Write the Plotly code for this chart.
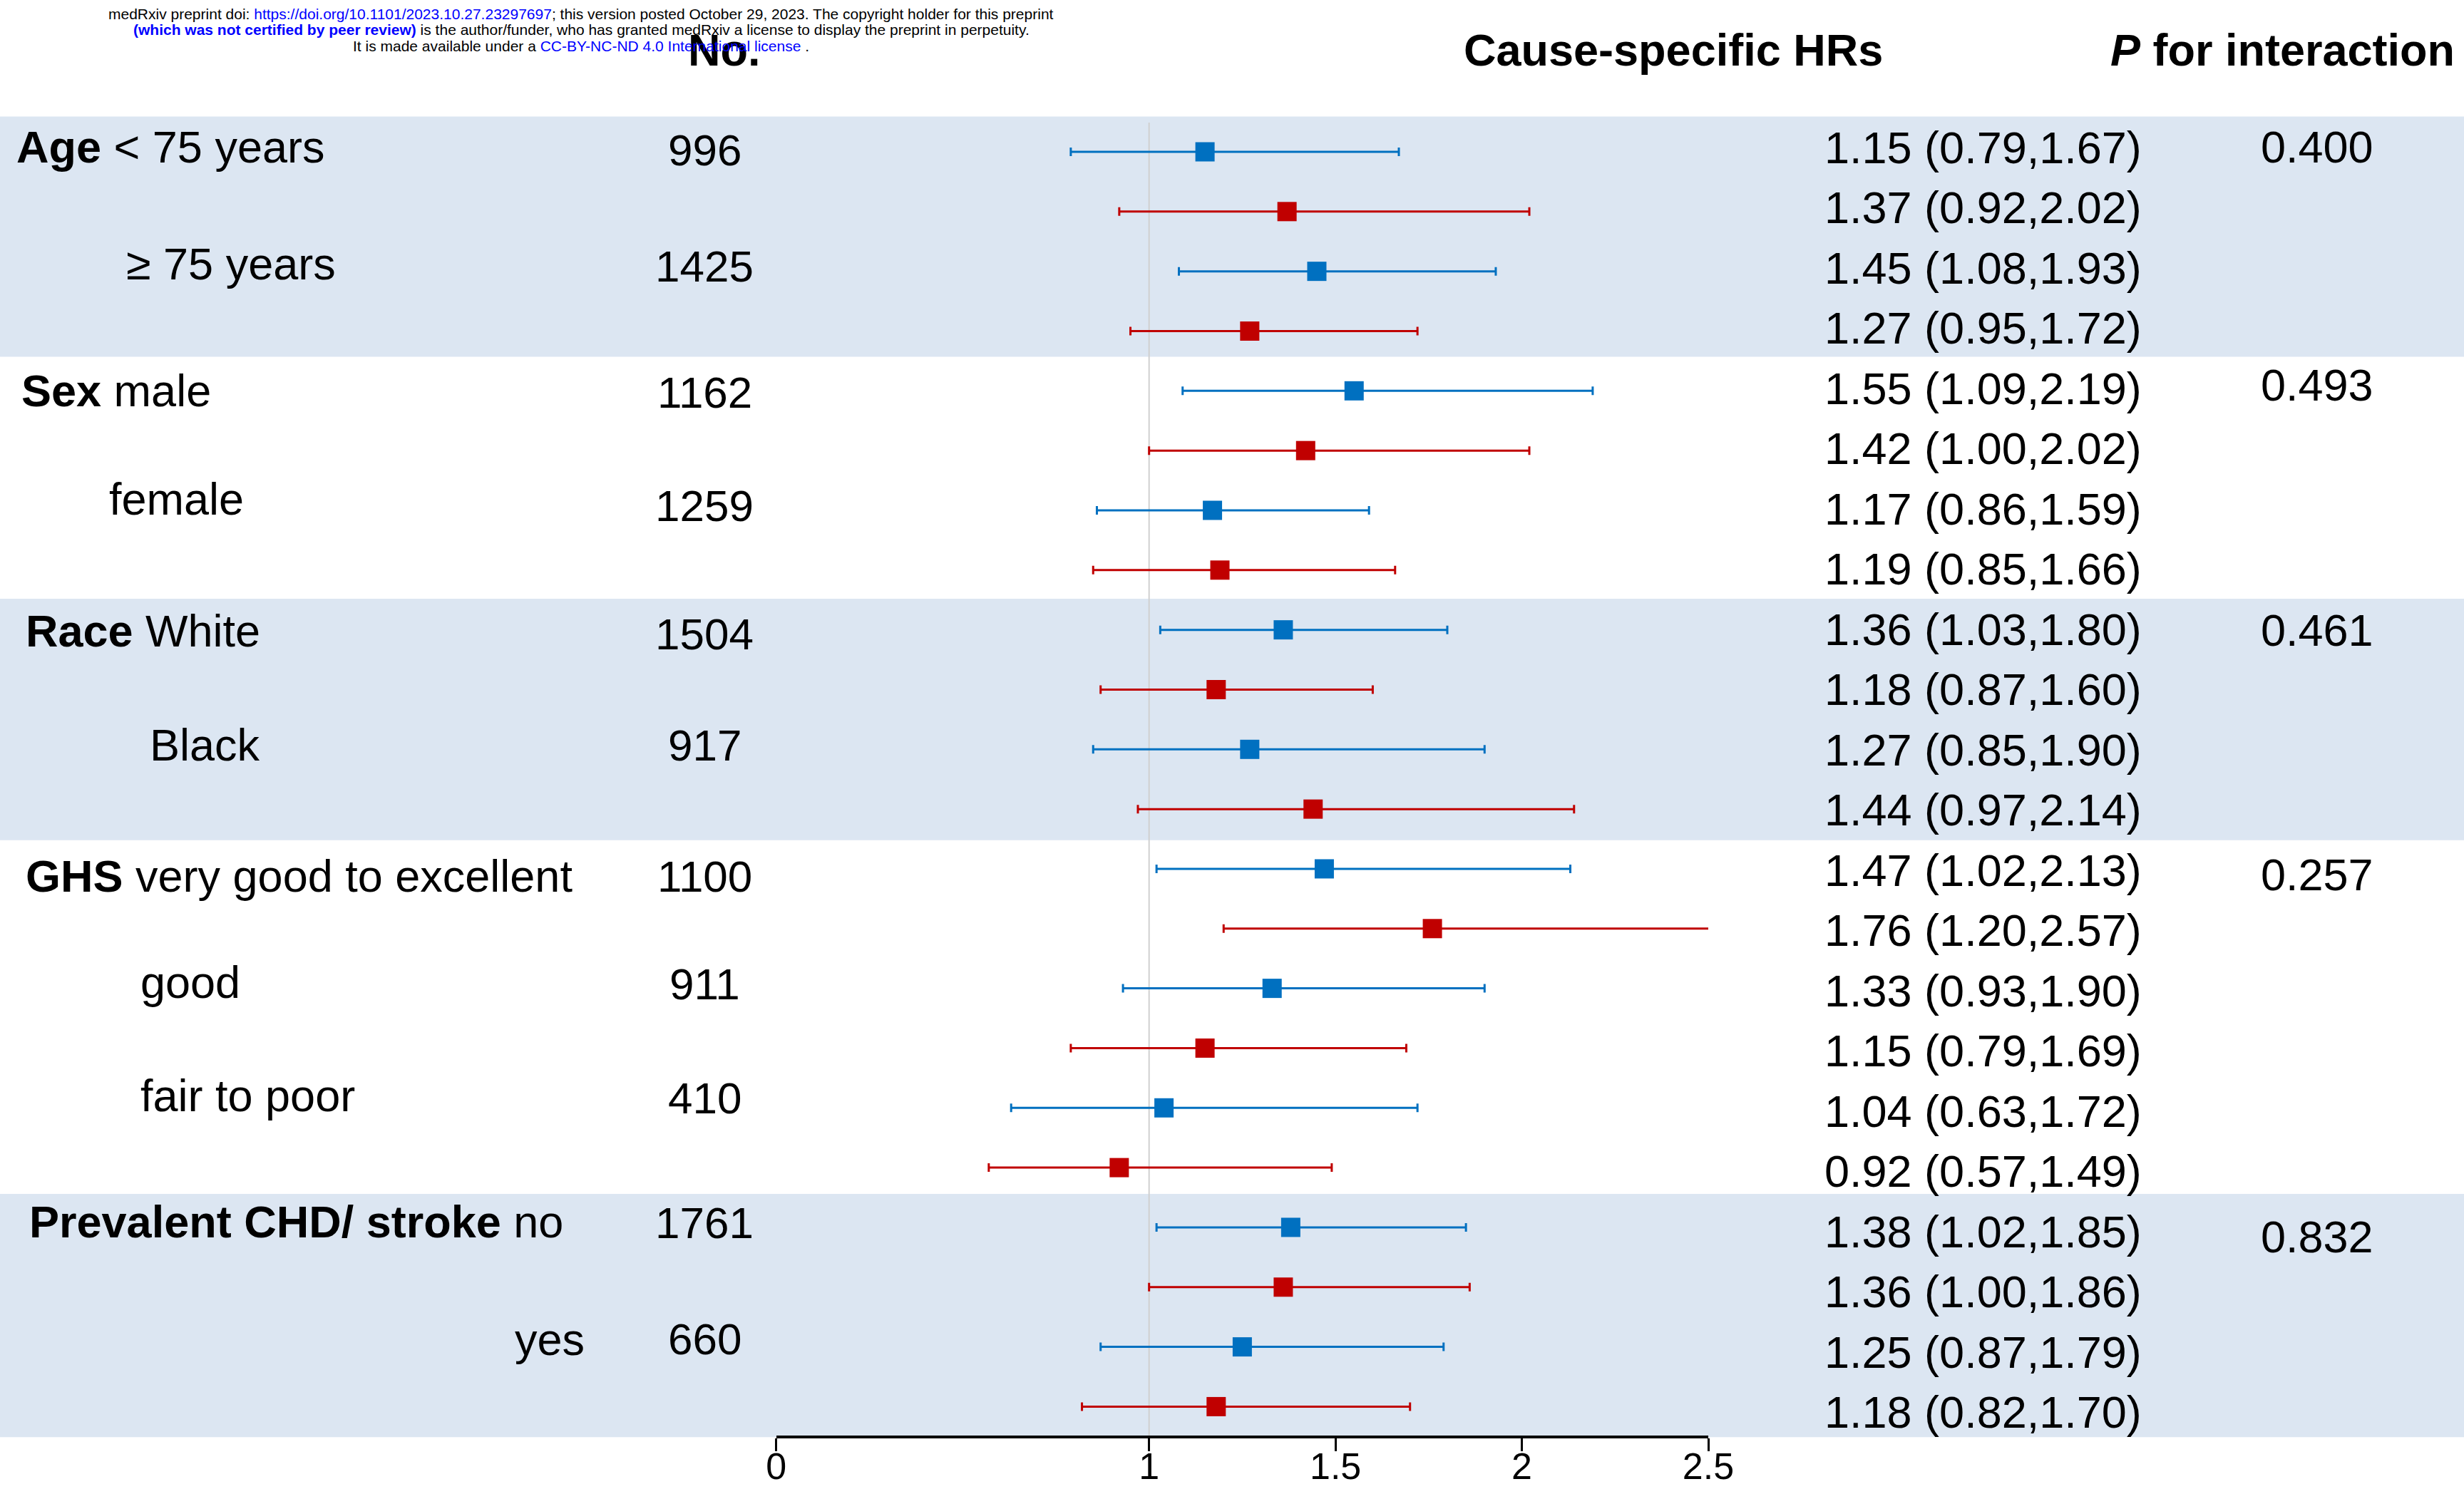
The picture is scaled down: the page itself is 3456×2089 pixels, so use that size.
import plotly.graph_objects as go

# ---------------- data ----------------
subgroup_labels = ["<b>Age</b> &lt; 75 years", "≥ 75 years", "<b>Sex</b> male", "female",
                   "<b>Race</b> White", "Black", "<b>GHS</b> very good to excellent", "good",
                   "fair to poor", "<b>Prevalent CHD/ stroke</b> no", "yes"]
sample_n = [996, 1425, 1162, 1259, 1504, 917, 1100, 911, 410, 1761, 660]

hr = [1.15, 1.37, 1.45, 1.27, 1.55, 1.42, 1.17, 1.19, 1.36, 1.18, 1.27,
      1.44, 1.47, 1.76, 1.33, 1.15, 1.04, 0.92, 1.38, 1.36, 1.25, 1.18]
lo = [0.79, 0.92, 1.08, 0.95, 1.09, 1.00, 0.86, 0.85, 1.03, 0.87, 0.85,
      0.97, 1.02, 1.20, 0.93, 0.79, 0.63, 0.57, 1.02, 1.00, 0.87, 0.82]
hi = [1.67, 2.02, 1.93, 1.72, 2.19, 2.02, 1.59, 1.66, 1.80, 1.60, 1.90,
      2.14, 2.13, 2.57, 1.90, 1.69, 1.72, 1.49, 1.85, 1.86, 1.79, 1.70]

p_values = ["0.400", "0.493", "0.461", "0.257", "0.832"]

tick_vals = [0, 1, 1.5, 2, 2.5]
tick_text = ["0", "1", "1.5", "2", "2.5"]

# ---------------- layout helpers (positions in row units) ----------------
label_rows = [-0.08, 1.87, 4.0, 5.81, 8.02, 9.93, 12.12, 13.9, 15.79, 17.9, 19.87]
number_rows = [-0.03, 1.91, 4.02, 5.92, 8.07, 9.93, 12.12, 13.93, 15.84, 17.92, 19.87]
label_x_px = [22, 176, 29, 152, 35, 209, 35, 196, 196, 40, 721]
p_rows = [-0.08, 3.90, 8.0, 12.10, 18.15]
bands = [(-0.59, 3.43), (7.48, 11.52), (17.44, 21.51)]
hr_text_offset, hr_text_step = -0.072, 1.00775   # HR text column has slightly wider line spacing

W, H = 3456, 2089
FONT = "Liberation Sans, Arial, sans-serif"
BLUE = "#0070C0"
RED = "#C00000"
BAND = "#DCE6F2"

rows = list(range(len(hr)))
fig = go.Figure()

for parity, color in [(0, BLUE), (1, RED)]:
    idx = [i for i in rows if i % 2 == parity]
    fig.add_trace(go.Scatter(
        x=[hr[i] for i in idx],
        y=[rows[i] for i in idx],
        mode="markers",
        marker=dict(symbol="square", size=27, color=color, line=dict(width=0)),
        error_x=dict(type="data", symmetric=False,
                     array=[hi[i] - hr[i] for i in idx],
                     arrayminus=[hr[i] - lo[i] for i in idx],
                     color=color, thickness=3, width=6),
        cliponaxis=False,
        showlegend=False,
        hoverinfo="skip",
    ))

shapes = []
for y0, y1 in bands:
    shapes.append(dict(type="rect", xref="paper", yref="y", x0=0, x1=1, y0=y0, y1=y1,
                       fillcolor=BAND, line=dict(width=0), layer="below"))
shapes.append(dict(type="line", xref="x", yref="y", x0=1, x1=1, y0=-0.49, y1=21.51,
                   line=dict(color="#D0D0D0", width=2), layer="below"))

ann = []
def add_text(text, x, y, size, xanchor="left", yref="y", color="black"):
    ann.append(dict(text=text, x=x, y=y, xref="paper", yref=yref, xanchor=xanchor,
                    yanchor="middle", showarrow=False, borderpad=0,
                    font=dict(family=FONT, size=size, color=color)))

# headers
head_y = 1 - 70 / H
add_text("<b>No.</b>", 1016 / W, head_y, 63, "center", "paper")
add_text("<b>Cause-specific HRs</b>", 2347 / W, head_y, 63, "center", "paper")
add_text("<b><i>P</i> for interaction</b>", 3201 / W, head_y, 63, "center", "paper")

# left labels and sample sizes
for lab, r, xp in zip(subgroup_labels, label_rows, label_x_px):
    add_text(lab, xp / W, r, 63, "left")
for n, r in zip(sample_n, number_rows):
    add_text(str(n), 988 / W, r, 62, "center")

# HR text
for i in rows:
    add_text(f"{hr[i]:.2f} ({lo[i]:.2f},{hi[i]:.2f})", 2558 / W,
             hr_text_offset + hr_text_step * i, 63, "left")

# P values
for p, r in zip(p_values, p_rows):
    add_text(p, 3250 / W, r, 63, "center")

# medRxiv watermark
wm_blue = "#0000FF"
wm = [
    "medRxiv preprint doi: <span style='color:%s'>https://doi.org/10.1101/2023.10.27.23297697</span>; this version posted October 29, 2023. The copyright holder for this preprint" % wm_blue,
    "<span style='color:%s'><b>(which was not certified by peer review)</b></span> is the author/funder, who has granted medRxiv a license to display the preprint in perpetuity." % wm_blue,
    "It is made available under a <span style='color:%s'>CC-BY-NC-ND 4.0 International license</span> ." % wm_blue,
]
for line, ypx in zip(wm, [20, 42, 64]):
    add_text(line, 815 / W, 1 - ypx / H, 21, "center", "paper")

# axis geometry (pixel positions of x=0 and x=2.5, axis line y)
x0_px, x25_px, axis_px = 1088.8, 2396.0, 2016
row0_px, row_step = 213.0, 83.83

fig.update_layout(
    width=W, height=H,
    margin=dict(l=0, r=0, t=0, b=0, pad=0, autoexpand=False),
    paper_bgcolor="white", plot_bgcolor="rgba(0,0,0,0)",
    font=dict(family=FONT, color="black"),
    shapes=shapes,
    annotations=ann,
    xaxis=dict(domain=[x0_px / W, x25_px / W], range=[0, 2.5],
               anchor="free", position=1 - axis_px / H, automargin=False,
               showline=True, linecolor="black", linewidth=4,
               ticks="outside", ticklen=18, tickwidth=3, tickcolor="black",
               tickvals=tick_vals, ticktext=tick_text, ticklabelstandoff=-23,
               tickfont=dict(family=FONT, size=52, color="black"),
               showgrid=False, zeroline=False, fixedrange=True),
    yaxis=dict(domain=[0, 1], automargin=False,
               range=[(H - row0_px) / row_step, -row0_px / row_step],
               visible=False, showgrid=False, zeroline=False, fixedrange=True),
)

fig.write_html(
    "out.html",
    config={"displayModeBar": False},
    post_script="document.body.style.margin='0';document.body.style.padding='0';"
                "document.documentElement.style.overflow='hidden';document.body.style.overflow='hidden';",
)
